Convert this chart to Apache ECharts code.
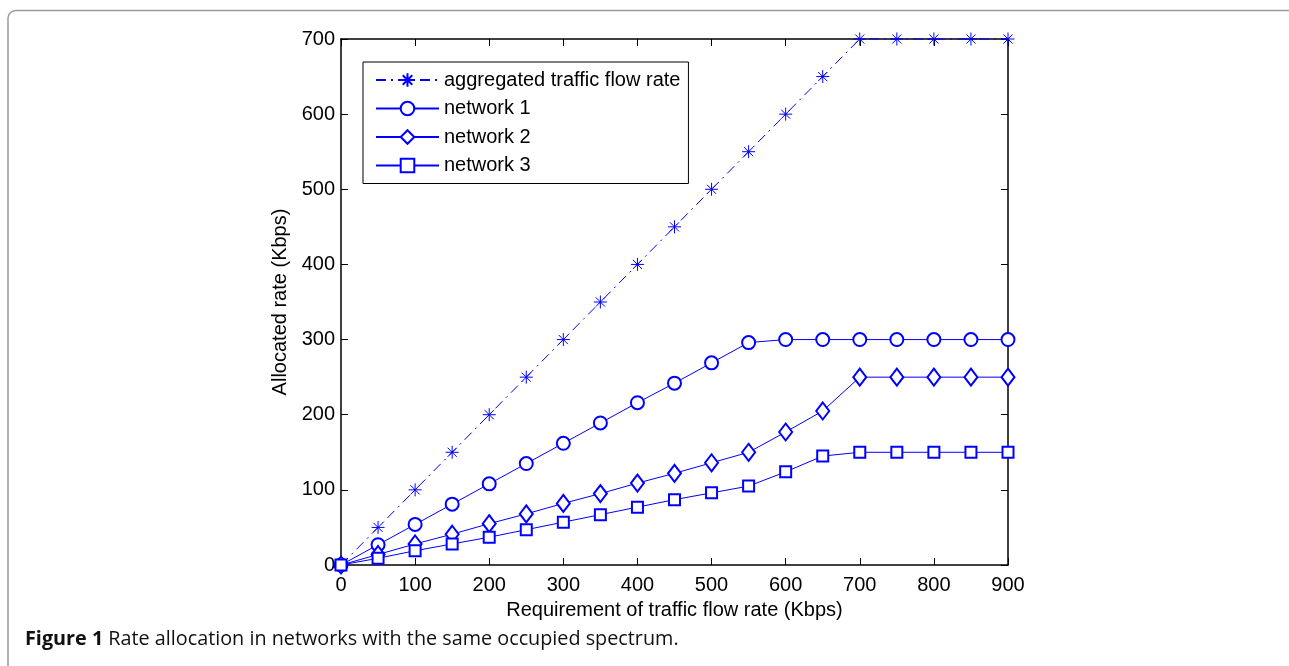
<!DOCTYPE html>
<html>
<head>
<meta charset="utf-8">
<style>
html,body{margin:0;padding:0;background:#fff;}
#chart{width:1289px;height:666px;}
</style>
<script src="https://cdn.jsdelivr.net/npm/echarts@6/dist/echarts.min.js"></script>
</head>
<body>
<div id="chart"></div>
<script>
// ---- data ----
const xValues = [0,50,100,150,200,250,300,350,400,450,500,550,600,650,700,750,800,850,900];
const aggregated = [0,50,100,150,200,250,300,350,400,450,500,550,600,650,700,700,700,700,700];
const network1 = [0,27,54,81,108,135,162,189,216,242,269,296,300,300,300,300,300,300,300];
const network2 = [0,14,28,41,55,68,82,95,109,122,136,150,177,205,250,250,250,250,250];
const network3 = [0,9,19,28,37,47,57,67,77,87,96,105,124,145,150,150,150,150,150];
const xTicks = [0,100,200,300,400,500,600,700,800,900];
const yTicks = [0,100,200,300,400,500,600,700];
const seriesNames = ['aggregated traffic flow rate','network 1','network 2','network 3'];
const captionBold = 'Figure 1';
const captionText = 'Rate allocation in networks with the same occupied spectrum.';
const xTitle = 'Requirement of traffic flow rate (Kbps)';
const yTitle = 'Allocated rate (Kbps)';

const pairs = ys => xValues.map((x, i) => [x, ys[i]]);
const BLUE = '#0000ff';
const FONT = 'Liberation Sans';
const FS = 20;
const ASTERISK = 'path://M0,-10L0,10M-10,0L10,0M-7,-7L7,7M-7,7L7,-7';

const chart = echarts.init(document.getElementById('chart'), null, {renderer: 'canvas'});

function baseSeries(name, ys, symbol, size, dash) {
  return {
    name: name,
    type: 'line',
    data: pairs(ys),
    symbol: symbol,
    symbolSize: size,
    showAllSymbol: true,
    clip: false,
    color: BLUE,
    lineStyle: {color: BLUE, width: 1, type: dash || 'solid'},
    itemStyle: {color: BLUE, borderColor: BLUE, borderWidth: 1},
    emphasis: {disabled: true},
    animation: false,
    z: 5
  };
}

function axisBase() {
  return {
    type: 'value',
    axisLine: {show: true, onZero: false, lineStyle: {color: '#000', width: 1.5}},
    axisTick: {show: true, inside: true, length: 7, lineStyle: {color: '#000', width: 1}},
    splitLine: {show: false}
  };
}

const option = {
  backgroundColor: '#fff',
  animation: false,
  grid: {left: 341, right: 281, top: 39, bottom: 101, containLabel: false},
  xAxis: [
    Object.assign(axisBase(), {
      position: 'bottom', min: xTicks[0], max: xTicks[xTicks.length - 1], interval: xTicks[1] - xTicks[0],
      axisLabel: {show: true, color: '#000', fontFamily: FONT, fontSize: FS, margin: 10},
      name: xTitle, nameLocation: 'middle', nameGap: 35,
      nameTextStyle: {color: '#000', fontFamily: FONT, fontSize: FS}
    }),
    Object.assign(axisBase(), {
      position: 'top', min: xTicks[0], max: xTicks[xTicks.length - 1], interval: xTicks[1] - xTicks[0],
      axisLabel: {show: false}
    })
  ],
  yAxis: [
    Object.assign(axisBase(), {
      position: 'left', min: yTicks[0], max: yTicks[yTicks.length - 1], interval: yTicks[1] - yTicks[0],
      axisLabel: {show: true, color: '#000', fontFamily: FONT, fontSize: FS, margin: 6},
      name: yTitle, nameLocation: 'middle', nameGap: 50, nameRotate: 90,
      nameTextStyle: {color: '#000', fontFamily: FONT, fontSize: FS}
    }),
    Object.assign(axisBase(), {
      position: 'right', min: yTicks[0], max: yTicks[yTicks.length - 1], interval: yTicks[1] - yTicks[0],
      axisLabel: {show: false}
    })
  ],
  legend: {
    show: true,
    orient: 'vertical',
    left: 363, top: 62,
    padding: [8, 8, 8, 12],
    itemWidth: 63, itemHeight: 17, itemGap: 8.5, itemTextGap: 8,
    backgroundColor: '#fff',
    borderColor: '#000', borderWidth: 1,
    textStyle: {color: '#000', fontFamily: FONT, fontSize: FS},
    data: seriesNames,
    selectedMode: false
  },
  series: [
    baseSeries(seriesNames[0], aggregated, ASTERISK, 13, [10, 5, 2, 5]),
    baseSeries(seriesNames[1], network1, 'emptyCircle', 13),
    baseSeries(seriesNames[2], network2, 'emptyDiamond', [13, 17]),
    baseSeries(seriesNames[3], network3, 'emptyRect', 11)
  ],
  graphic: [
    {
      type: 'rect', silent: true, z: -10,
      shape: {x: 8, y: 10.5, width: 1400, height: 800, r: 8},
      style: {fill: 'none', stroke: '#9a9a9a', lineWidth: 1.5}
    },
    {
      type: 'text', left: 25, top: 629, silent: true,
      style: {
        text: '{b|' + captionBold + '} ' + captionText,
        fontFamily: 'Open Sans', fontSize: 19.8, fill: '#111',
        rich: {b: {fontFamily: 'Open Sans', fontWeight: 'bold', fontSize: 19.8, fill: '#111'}}
      }
    }
  ]
};
chart.setOption(option);
</script>
</body>
</html>
